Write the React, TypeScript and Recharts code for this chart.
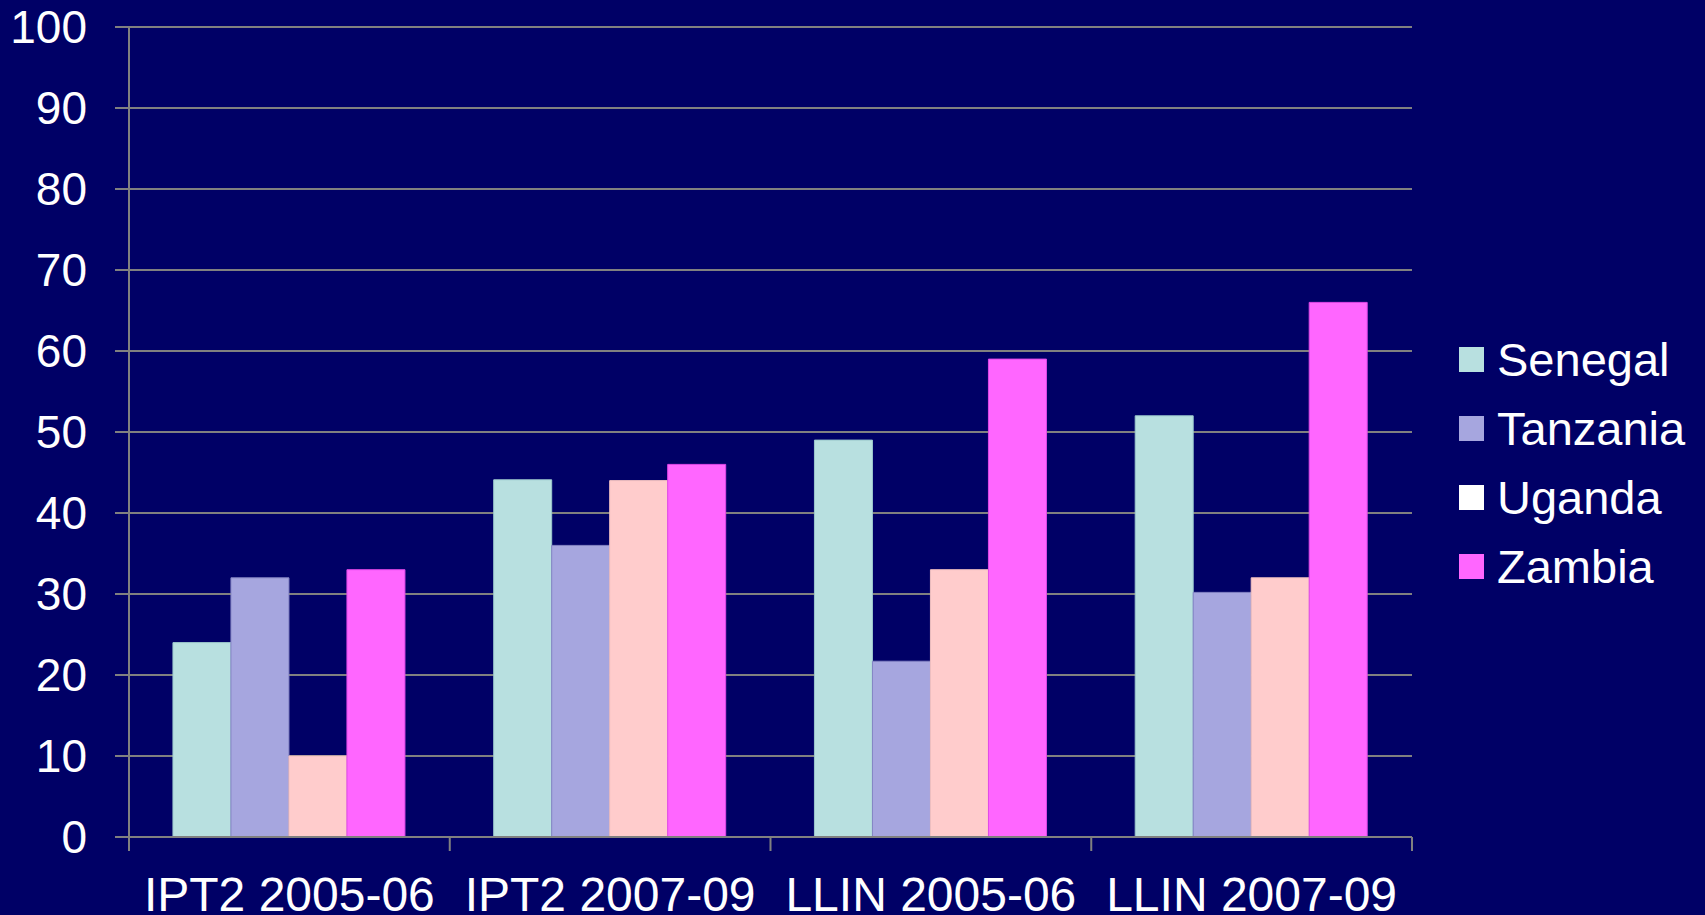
import { BarChart, Bar, XAxis, YAxis, CartesianGrid } from "recharts";

const categories = ["IPT2 2005-06", "IPT2 2007-09", "LLIN 2005-06", "LLIN 2007-09"];
const senegal = [24, 44.1, 49, 52];
const tanzania = [32, 36, 21.7, 30.2];
const uganda = [10, 44, 33, 32];
const zambia = [33, 46, 59, 66];
const yTicks = [0, 10, 20, 30, 40, 50, 60, 70, 80, 90, 100];

const series = [
  { key: "Senegal", fill: "#B8E0E0", stroke: "#9CC8CC", legend: "#B8E0E0" },
  { key: "Tanzania", fill: "#A6A6DF", stroke: "#8484C4", legend: "#A6A6DF" },
  { key: "Uganda", fill: "#FFCCCC", stroke: "#F0C0C0", legend: "#FFFFFF" },
  { key: "Zambia", fill: "#FF66FF", stroke: "#E048E8", legend: "#FF66FF" },
];

const data = categories.map((name, i) => ({
  name,
  Senegal: senegal[i],
  Tanzania: tanzania[i],
  Uganda: uganda[i],
  Zambia: zambia[i],
}));

const FONT = '"Liberation Sans", Arial, sans-serif';
const GRID = "#808080";

// label sits at axis + tickSize(14) + tickMargin(26); tick marks go at category boundaries
function CategoryTick(props: any) {
  const { x, y, payload, index } = props;
  const half = payload && payload.offset ? payload.offset : 160.3;
  const top = y - 40;
  return (
    <g>
      <line x1={x - half} y1={top} x2={x - half} y2={top + 14} stroke={GRID} strokeWidth={2} />
      {index === categories.length - 1 && (
        <line x1={x + half} y1={top} x2={x + half} y2={top + 14} stroke={GRID} strokeWidth={2} />
      )}
      <text x={x} y={y} dy="0.71em" textAnchor="middle" fill="#FFFFFF" fontSize={48} fontFamily={FONT}>
        {payload.value}
      </text>
    </g>
  );
}

function LegendBox() {
  return (
    <div style={{ position: "absolute", left: 1459, top: 325, fontFamily: FONT }}>
      {series.map((s) => (
        <div key={s.key} style={{ display: "flex", alignItems: "center", height: 69 }}>
          <div style={{ width: 25, height: 25, background: s.legend, marginRight: 13 }} />
          <span style={{ color: "#FFFFFF", fontSize: 47 }}>{s.key}</span>
        </div>
      ))}
    </div>
  );
}

export default function App() {
  return (
    <div style={{ position: "absolute", left: 0, top: 0, width: 1705, height: 915, background: "#000066" }}>
      <BarChart
        width={1705}
        height={915}
        data={data}
        margin={{ top: 27, right: 293, left: 0, bottom: 0 }}
        barCategoryGap="13.7%"
        barGap={0}
      >
        <CartesianGrid vertical={false} stroke={GRID} strokeWidth={2} />
        <XAxis
          dataKey="name"
          height={78}
          axisLine={{ stroke: GRID, strokeWidth: 2 }}
          tickLine={false}
          tickSize={14}
          tickMargin={26}
          tick={<CategoryTick />}
          interval={0}
        />
        <YAxis
          width={129}
          domain={[0, 100]}
          ticks={yTicks}
          interval={0}
          axisLine={{ stroke: GRID, strokeWidth: 2 }}
          tickLine={{ stroke: GRID, strokeWidth: 2 }}
          tickSize={14}
          tickMargin={28}
          tick={{ fill: "#FFFFFF", fontSize: 46, fontFamily: FONT }}
        />
        {series.map((s) => (
          <Bar
            key={s.key}
            dataKey={s.key}
            fill={s.fill}
            stroke={s.stroke}
            strokeWidth={1}
            isAnimationActive={false}
          />
        ))}
      </BarChart>
      <LegendBox />
    </div>
  );
}
